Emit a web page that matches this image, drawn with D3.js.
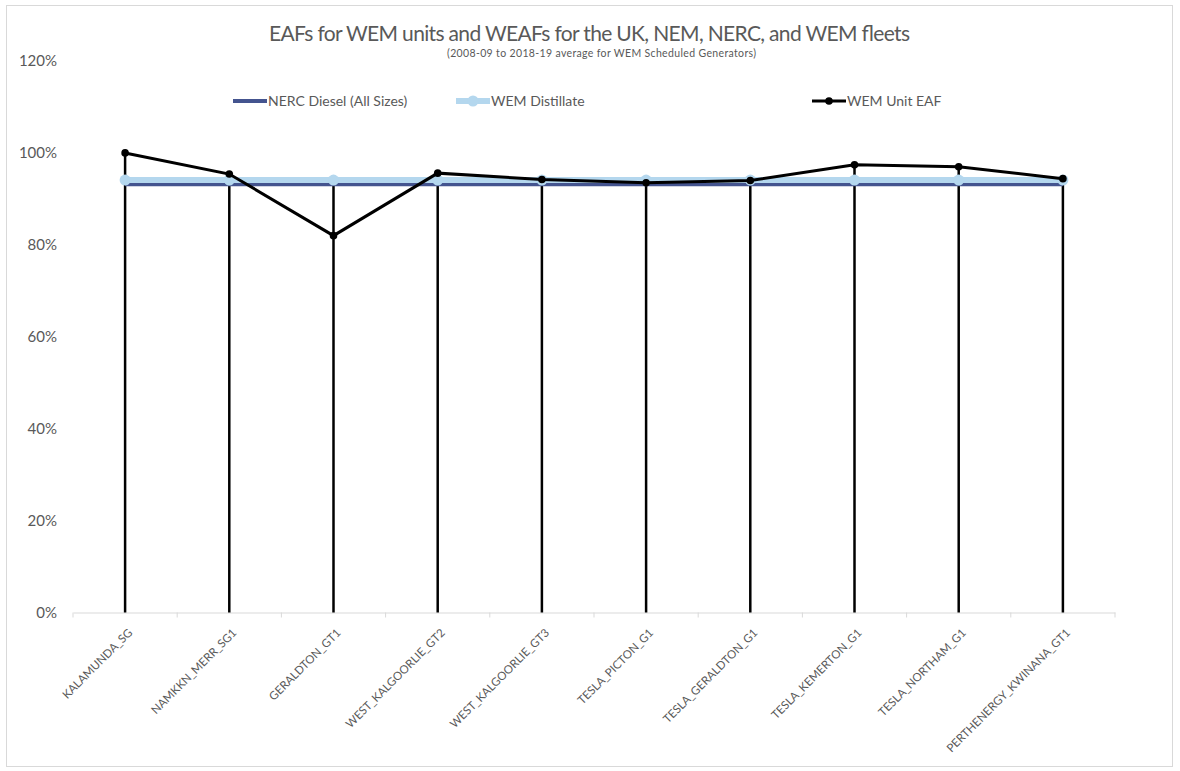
<!DOCTYPE html>
<html><head><meta charset="utf-8">
<script src="https://cdn.jsdelivr.net/npm/d3@7"></script>
<style>body{margin:0;background:#fff;font-family:Lato,"Open Sans",sans-serif;}</style>
</head><body>
<svg id="c" width="1180" height="771"></svg>
<script>
const categories = ["KALAMUNDA_SG","NAMKKN_MERR_SG1","GERALDTON_GT1","WEST_KALGOORLIE_GT2","WEST_KALGOORLIE_GT3","TESLA_PICTON_G1","TESLA_GERALDTON_G1","TESLA_KEMERTON_G1","TESLA_NORTHAM_G1","PERTHENERGY_KWINANA_GT1"];
const nercDiesel = [93.2,93.2,93.2,93.2,93.2,93.2,93.2,93.2,93.2,93.2];
const wemDistillate = [94.1,94.1,94.1,94.1,94.1,94.1,94.1,94.1,94.1,94.1];
const wemUnitEAF = [100.0,95.4,82.0,95.6,94.2,93.5,94.0,97.4,97.0,94.4];
const yTicks = [0,20,40,60,80,100,120];
const seriesNames = ["NERC Diesel (All Sizes)","WEM Distillate","WEM Unit EAF"];

(function(){
const svg = d3.select("#c");
const mL = 73, mR = 1115, mT = 61, mB = 612.5;
const x = d3.scaleBand().domain(categories).range([mL, mR]);
const y = d3.scaleLinear().domain([0,120]).range([mB, mT]);
const cx = d => x(d) + x.bandwidth()/2;
const txt = "#595959";

svg.append("rect").attr("x",6.5).attr("y",5.5).attr("width",1166).attr("height",761)
  .attr("fill","#fff").attr("stroke","#d9d9d9");

svg.append("text").attr("x",589.5).attr("y",41).attr("text-anchor","middle")
  .attr("font-size",21).attr("textLength",641).attr("fill",txt).text("EAFs for WEM units and WEAFs for the UK, NEM, NERC, and WEM fleets");
svg.append("text").attr("x",601.5).attr("y",57).attr("text-anchor","middle")
  .attr("font-size",10.5).attr("textLength",309).attr("fill",txt).text("(2008-09 to 2018-19 average for WEM Scheduled Generators)");

const ya = svg.append("g").attr("transform",`translate(${mL-9},0)`)
  .call(d3.axisLeft(y).tickValues(yTicks).tickFormat(d=>d+"%").tickSize(0).tickPadding(7));
ya.select(".domain").remove();
ya.selectAll("text").attr("font-size",15).attr("fill",txt).attr("font-family","Lato,'Open Sans',sans-serif");

const xa = svg.append("g").attr("transform",`translate(0,${mB})`)
  .call(d3.axisBottom(x).tickSize(0).tickPadding(0));
xa.select(".domain").attr("stroke","#d9d9d9");
xa.selectAll("text").remove();
xa.selectAll(".tick line").remove();
const bounds = categories.map(c=>x(c)).concat([mR]);
svg.append("g").selectAll("line").data(bounds).join("line")
  .attr("x1",d=>d).attr("x2",d=>d).attr("y1",mB).attr("y2",mB+5).attr("stroke","#d9d9d9");
svg.append("g").selectAll("text").data(categories).join("text")
  .attr("transform",d=>`translate(${cx(d)+8},${mB+21}) rotate(-45)`)
  .attr("text-anchor","end").attr("font-size",11.5).attr("fill",txt).text(d=>d);

svg.append("g").selectAll("line").data(categories).join("line")
  .attr("x1",d=>cx(d)).attr("x2",d=>cx(d))
  .attr("y1",(d,i)=>y(Math.max(wemUnitEAF[i],wemDistillate[i],nercDiesel[i]))).attr("y2",mB)
  .attr("stroke","#000").attr("stroke-width",2.5);

const line = d3.line().x((d,i)=>cx(categories[i])).y(d=>y(d));
svg.append("path").datum(nercDiesel).attr("d",line).attr("fill","none").attr("stroke","#44548f").attr("stroke-width",4);
svg.append("path").datum(wemDistillate).attr("d",line).attr("fill","none").attr("stroke","#b4d7ee").attr("stroke-width",6);
svg.append("g").selectAll("circle").data(wemDistillate).join("circle")
  .attr("cx",(d,i)=>cx(categories[i])).attr("cy",d=>y(d)).attr("r",5.5).attr("fill","#b4d7ee");
svg.append("path").datum(wemUnitEAF).attr("d",line).attr("fill","none").attr("stroke","#000").attr("stroke-width",3);
svg.append("g").selectAll("circle").data(wemUnitEAF).join("circle")
  .attr("cx",(d,i)=>cx(categories[i])).attr("cy",d=>y(d)).attr("r",3.8).attr("fill","#000");

const lg = [{x:233,c:"#44548f",w:4,m:0},{x:456,c:"#b4d7ee",w:6,m:5.5},{x:812,c:"#000",w:3,m:3.8}];
lg.forEach((l,i)=>{
  const g = svg.append("g");
  g.append("line").attr("x1",l.x).attr("x2",l.x+34).attr("y1",101).attr("y2",101).attr("stroke",l.c).attr("stroke-width",l.w);
  if(l.m) g.append("circle").attr("cx",l.x+17).attr("cy",101).attr("r",l.m).attr("fill",l.c);
  g.append("text").attr("x",l.x+35).attr("y",106).attr("font-size",14).attr("fill",txt).text(seriesNames[i]);
});
})();
</script>
</body></html>
